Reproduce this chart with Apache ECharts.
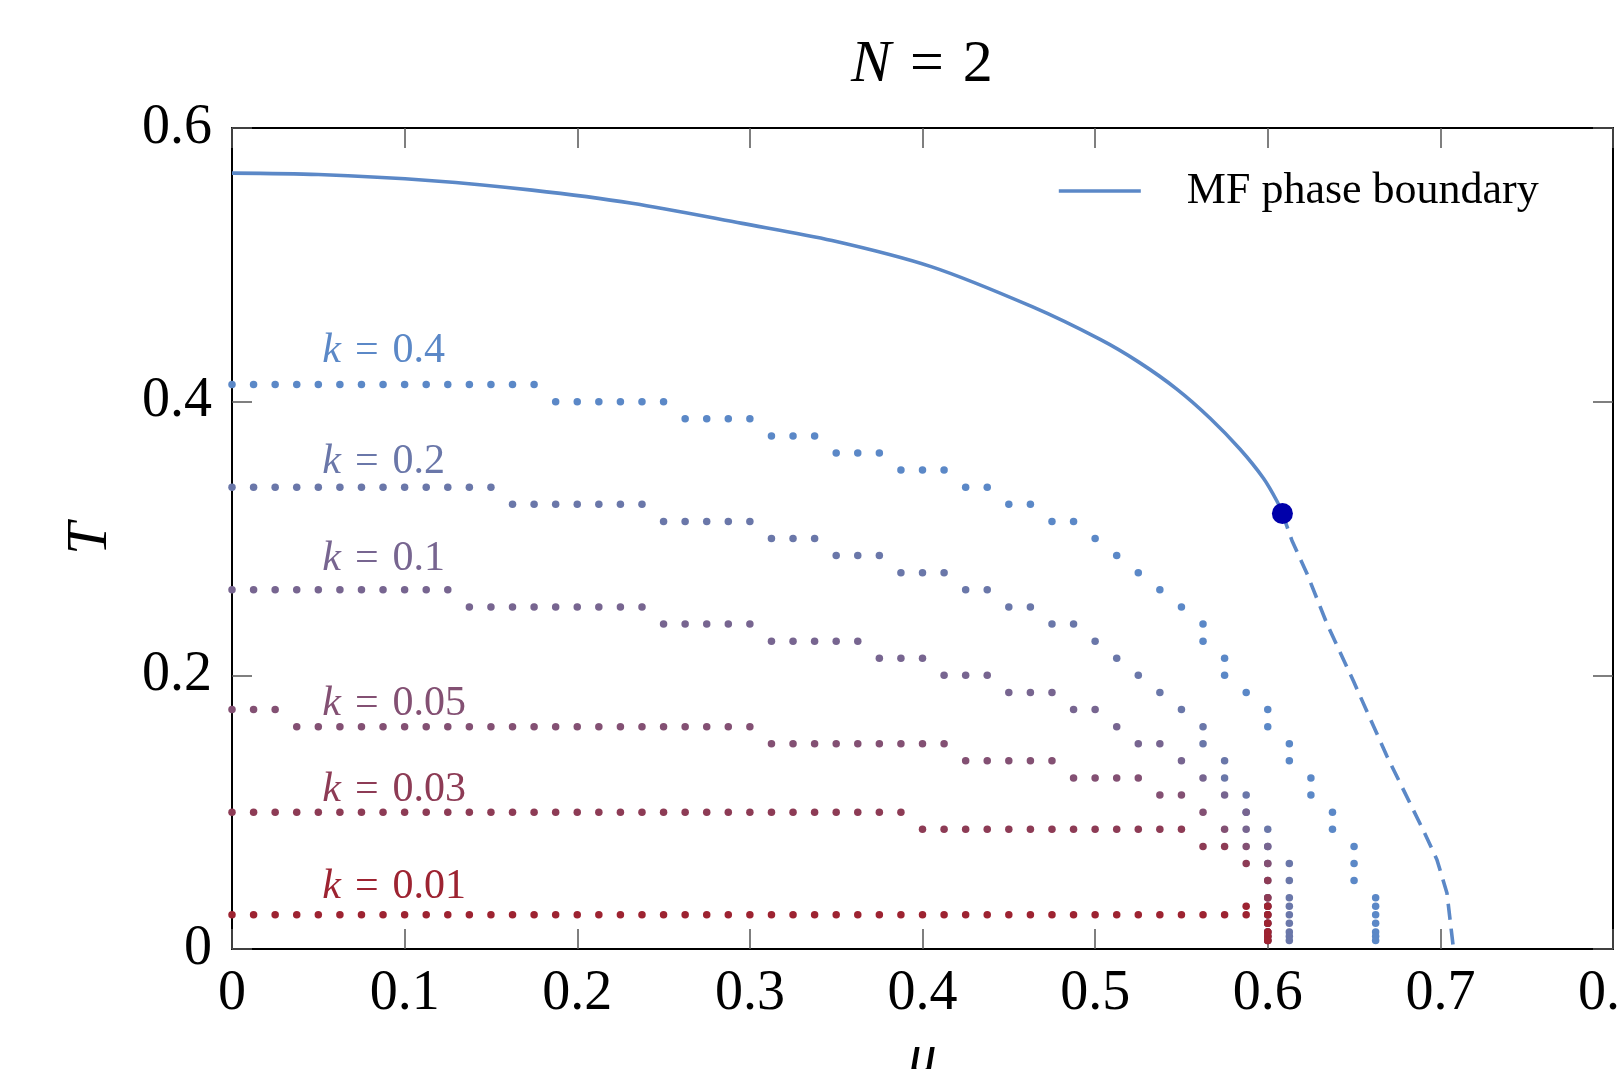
<!DOCTYPE html>
<html>
<head>
<meta charset="utf-8">
<script src="https://cdn.jsdelivr.net/npm/echarts@6/dist/echarts.min.js"></script>
<style>
  html, body { margin: 0; padding: 0; background: #fff; }
  #box1 { width: 1618px; height: 1069px; }
</style>
</head>
<body>
<div id="box1"></div>
<script>
// mu columns the k-curves sit on
var muGrid = [0, 0.0125, 0.025, 0.0375, 0.05, 0.0625, 0.075, 0.0875, 0.1, 0.1125,
  0.125, 0.1375, 0.15, 0.1625, 0.175, 0.1875, 0.2, 0.2125, 0.225, 0.2375,
  0.25, 0.2625, 0.275, 0.2875, 0.3, 0.3125, 0.325, 0.3375, 0.35, 0.3625,
  0.375, 0.3875, 0.4, 0.4125, 0.425, 0.4375, 0.45, 0.4625, 0.475, 0.4875,
  0.5, 0.5125, 0.525, 0.5375, 0.55, 0.5625, 0.575, 0.5875, 0.6, 0.6125,
  0.625, 0.6375, 0.65, 0.6625];

// rows: [T, first column, last column]
var rowsK04 = [[0.4125, 0, 14], [0.4, 15, 20], [0.3875, 21, 24], [0.375, 25, 27], [0.3625, 28, 30],
  [0.35, 31, 33], [0.3375, 34, 35], [0.325, 36, 37], [0.3125, 38, 39], [0.3, 40, 40],
  [0.2875, 41, 41], [0.275, 42, 42], [0.2625, 43, 43], [0.25, 44, 44], [0.2375, 45, 45],
  [0.225, 45, 45], [0.2125, 46, 46], [0.2, 46, 46], [0.1875, 47, 47], [0.175, 48, 48],
  [0.1625, 48, 48], [0.15, 49, 49], [0.1375, 49, 49], [0.125, 50, 50], [0.1125, 50, 50],
  [0.1, 51, 51], [0.0875, 51, 51], [0.075, 52, 52], [0.0625, 52, 52], [0.05, 52, 52]];
var rowsK02 = [[0.3375, 0, 12], [0.325, 13, 19], [0.3125, 20, 24], [0.3, 25, 27], [0.2875, 28, 30],
  [0.275, 31, 33], [0.2625, 34, 35], [0.25, 36, 37], [0.2375, 38, 39], [0.225, 40, 40],
  [0.2125, 41, 41], [0.2, 42, 42], [0.1875, 43, 43], [0.175, 44, 44], [0.1625, 45, 45],
  [0.15, 45, 45], [0.1375, 46, 46], [0.125, 46, 46], [0.1125, 47, 47], [0.1, 47, 47],
  [0.0875, 48, 48], [0.075, 48, 48], [0.0625, 49, 49], [0.05, 49, 49]];
var rowsK01 = [[0.2625, 0, 10], [0.25, 11, 19], [0.2375, 20, 24], [0.225, 25, 29], [0.2125, 30, 32],
  [0.2, 33, 35], [0.1875, 36, 38], [0.175, 39, 40], [0.1625, 41, 41], [0.15, 42, 43],
  [0.1375, 44, 44], [0.125, 45, 45], [0.1125, 46, 46], [0.1, 47, 47], [0.0875, 47, 47],
  [0.075, 48, 48], [0.0625, 48, 48], [0.05, 48, 48]];
var rowsK005 = [[0.175, 0, 2], [0.1625, 3, 24], [0.15, 25, 33], [0.1375, 34, 38], [0.125, 39, 42],
  [0.1125, 43, 44], [0.1, 45, 45], [0.0875, 46, 46], [0.075, 47, 47], [0.0625, 48, 48]];
var rowsK003 = [[0.1, 0, 31], [0.0875, 32, 44], [0.075, 45, 46], [0.0625, 47, 47], [0.05, 48, 48]];
var rowsK001 = [[0.025, 0, 47], [0.03125, 47, 47]];

// finer T steps near T = 0, one column per curve
var tailT = [0.0375, 0.03125, 0.025, 0.01875, 0.0125, 0.009375, 0.00625];
var tailT001 = [0.03125, 0.025, 0.01875, 0.0125, 0.009375, 0.00625];
var tailCol = [53, 49, 48, 48, 48, 48];

var kNames = ['0.4', '0.2', '0.1', '0.05', '0.03', '0.01'];
var kColors = ['#5b88c7', '#6a77a9', '#776590', '#835073', '#8d3b55', '#9d2331'];
var labelMu = 0.052;
var labelT = [0.437, 0.356, 0.285, 0.179, 0.116, 0.0453];

// mean-field boundary, solid part then dashed part
var mfMu = [0, 0.05, 0.1159, 0.1738, 0.2317, 0.2956, 0.3476, 0.405, 0.4635, 0.5029,
  0.5253, 0.5473, 0.5666, 0.584, 0.5975, 0.6053, 0.6085];
var mfT = [0.567, 0.566, 0.5615, 0.5546, 0.545, 0.5303, 0.5178, 0.4987, 0.4694, 0.4455,
  0.4289, 0.4092, 0.3879, 0.3652, 0.344, 0.3274, 0.3183];
var dashMu = [0.6085, 0.614, 0.6227, 0.6342, 0.6497, 0.669, 0.6902, 0.698, 0.7038, 0.7076];
var dashT = [0.3183, 0.2986, 0.2744, 0.238, 0.1956, 0.141, 0.0865, 0.0653, 0.041, 0];
var critical = [0.6085, 0.3183];

var serif = '"Liberation Serif", "DejaVu Serif", serif';
var lineBlue = '#5b88c7';

function buildPoints(rows, col, tail) {
  var pts = [];
  rows.forEach(function (r) {
    for (var c = r[1]; c <= r[2]; c++) pts.push([muGrid[c], r[0]]);
  });
  tail.forEach(function (t) { pts.push([muGrid[col], t]); });
  return pts;
}

function zip(a, b) {
  return a.map(function (v, i) { return [v, b[i]]; });
}

var allRows = [rowsK04, rowsK02, rowsK01, rowsK005, rowsK003, rowsK001];

var series = [];
allRows.forEach(function (rows, n) {
  series.push({
    name: 'k=' + kNames[n],
    type: 'scatter',
    symbolSize: 7.5,
    itemStyle: { color: kColors[n], opacity: 1 },
    data: buildPoints(rows, tailCol[n], n === 5 ? tailT001 : tailT),
    z: 3,
    markPoint: {
      symbol: 'circle',
      symbolSize: 1,
      itemStyle: { color: 'rgba(0,0,0,0)' },
      label: {
        show: true,
        position: 'right',
        distance: 0,
        formatter: '{it|k}{eq|=}' + kNames[n],
        color: kColors[n],
        fontFamily: serif,
        fontSize: 42,
        rich: {
          it: { fontStyle: 'italic', fontFamily: serif, fontSize: 42, color: kColors[n] },
          eq: { fontFamily: serif, fontSize: 42, color: kColors[n], padding: [0, 14] }
        }
      },
      data: [{ coord: [labelMu, labelT[n]] }]
    }
  });
});

series.push({
  name: 'MF phase boundary',
  type: 'line',
  symbol: 'none',
  smooth: 0.3,
  lineStyle: { color: lineBlue, width: 3.6 },
  itemStyle: { color: lineBlue },
  data: zip(mfMu, mfT),
  z: 4
});
series.push({
  name: 'mf-dashed',
  type: 'line',
  symbol: 'none',
  lineStyle: { color: lineBlue, width: 3.6, type: [16, 9] },
  data: zip(dashMu, dashT),
  z: 4
});
series.push({
  name: 'critical',
  type: 'scatter',
  symbolSize: 21,
  itemStyle: { color: '#0000aa', opacity: 1 },
  data: [critical],
  z: 5
});

var tickStyle = { inside: true, length: 20, lineStyle: { color: '#555', width: 1.5 } };
var frameLine = { show: true, onZero: false, lineStyle: { color: '#000', width: 2 } };

var option = {
  animation: false,
  backgroundColor: '#fff',
  title: {
    text: '{it|N}{eq|=}2',
    left: 846,
    top: 30,
    textStyle: {
      fontFamily: serif, fontSize: 60, fontWeight: 'normal', color: '#000',
      rich: {
        it: { fontStyle: 'italic', fontFamily: serif, fontSize: 60, color: '#000' },
        eq: { fontFamily: serif, fontSize: 60, color: '#000', padding: [0, 19] }
      }
    }
  },
  legend: {
    data: ['MF phase boundary'],
    left: 1052,
    top: 164,
    itemWidth: 82,
    itemHeight: 14,
    itemStyle: { opacity: 0 },
    lineStyle: { color: lineBlue, width: 3.6 },
    textStyle: { fontFamily: serif, fontSize: 44, color: '#000', padding: [0, 0, 0, 41], lineHeight: 40 }
  },
  grid: { left: 232, right: 5, top: 128, bottom: 120, containLabel: false, outerBoundsMode: 'none' },
  xAxis: [{
    type: 'value', min: 0, max: 0.8, interval: 0.1,
    name: 'μ', nameLocation: 'middle', nameGap: 81,
    nameTextStyle: { fontFamily: serif, fontSize: 56, fontStyle: 'italic', color: '#000' },
    axisLine: frameLine, axisTick: tickStyle, splitLine: { show: false },
    axisLabel: { fontFamily: serif, fontSize: 56, color: '#000', margin: 17 }
  }, {
    type: 'value', min: 0, max: 0.8, interval: 0.1, position: 'top',
    axisLine: frameLine, axisTick: tickStyle, splitLine: { show: false },
    axisLabel: { show: false }
  }],
  yAxis: [{
    type: 'value', min: 0, max: 0.6, interval: 0.2,
    name: 'T', nameLocation: 'middle', nameGap: 112, nameRotate: 90,
    nameTextStyle: { fontFamily: serif, fontSize: 58, fontStyle: 'italic', color: '#000' },
    axisLine: frameLine, axisTick: tickStyle, splitLine: { show: false },
    axisLabel: { fontFamily: serif, fontSize: 56, color: '#000', margin: 20 }
  }, {
    type: 'value', min: 0, max: 0.6, interval: 0.2, position: 'right',
    axisLine: frameLine, axisTick: tickStyle, splitLine: { show: false },
    axisLabel: { show: false }
  }],
  series: series
};

var myChart = echarts.init(document.getElementById('box1'));
myChart.setOption(option);
</script>
</body>
</html>
